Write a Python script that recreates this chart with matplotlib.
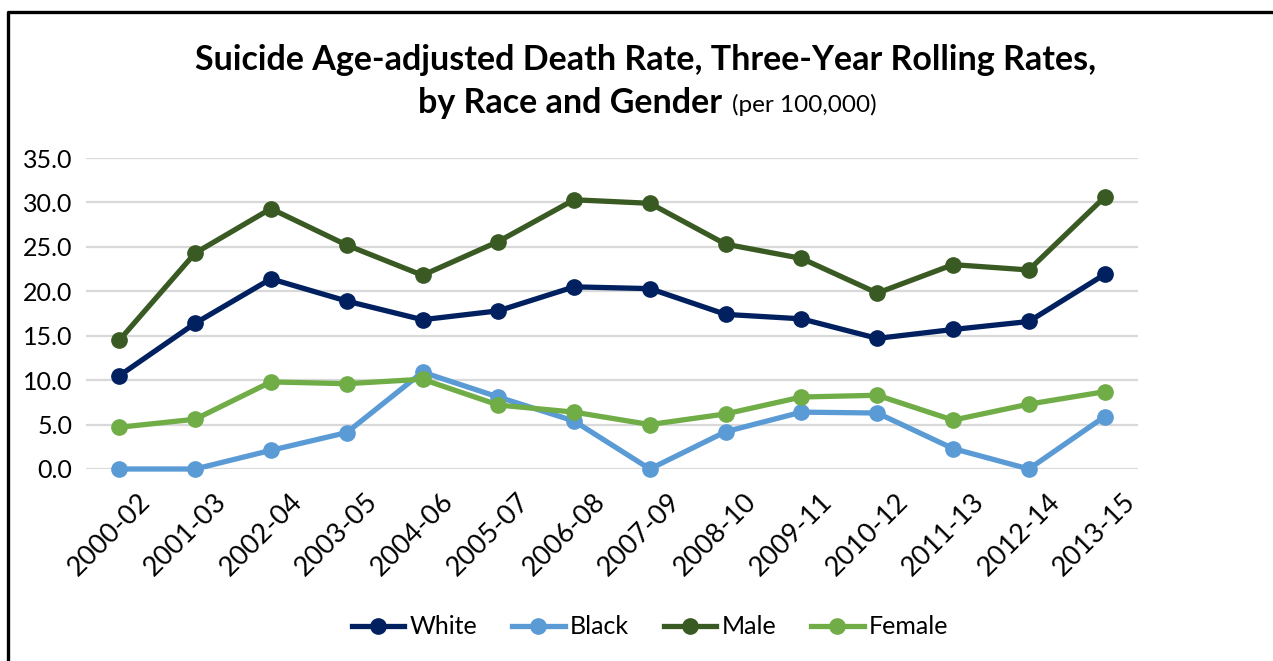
import matplotlib.pyplot as plt
import matplotlib.transforms as mtransforms
from matplotlib.lines import Line2D

plt.rcParams['font.family'] = ['Lato', 'DejaVu Sans']

periods = ['2000-02', '2001-03', '2002-04', '2003-05', '2004-06', '2005-07', '2006-08',
           '2007-09', '2008-10', '2009-11', '2010-12', '2011-13', '2012-14', '2013-15']
white = [10.5, 16.4, 21.4, 18.9, 16.8, 17.8, 20.5, 20.3, 17.4, 16.9, 14.7, 15.7, 16.6, 21.9]
black = [0.0, 0.0, 2.1, 4.1, 10.9, 8.1, 5.4, 0.0, 4.2, 6.4, 6.3, 2.3, 0.0, 5.9]
male = [14.5, 24.3, 29.3, 25.2, 21.8, 25.6, 30.3, 29.9, 25.3, 23.7, 19.8, 23.0, 22.4, 30.6]
female = [4.7, 5.6, 9.8, 9.6, 10.1, 7.2, 6.4, 5.0, 6.2, 8.1, 8.3, 5.5, 7.3, 8.7]

series = [('White', white, '#002060'),
          ('Black', black, '#5b9bd5'),
          ('Male', male, '#3a5a23'),
          ('Female', female, '#70ad47')]

fig = plt.figure(figsize=(12.73, 6.61), dpi=100)
ax = fig.add_axes([86 / 1273, 1 - 469 / 661, (1138 - 86) / 1273, (469 - 158) / 661])

x = list(range(len(periods)))
for name, vals, col in series:
    ax.plot(x, vals, color=col, lw=3.8, marker='o', markersize=11, label=name,
            clip_on=False, zorder=3)

ax.set_xlim(-0.44, len(periods) - 1 + 0.44)
ax.set_ylim(0, 35)
ax.set_yticks([0, 5, 10, 15, 20, 25, 30, 35])
ax.set_yticklabels(['%.1f' % v for v in [0, 5, 10, 15, 20, 25, 30, 35]])
ax.yaxis.grid(True, color='#d9d9d9', lw=1.6)
ax.set_axisbelow(True)
for s in ax.spines.values():
    s.set_visible(False)
ax.tick_params(axis='both', length=0, labelsize=18)
ax.tick_params(axis='x', labelsize=19.5)
ax.tick_params(axis='y', pad=10)

ax.set_xticks(x)
ax.set_xticklabels(periods, rotation=45, ha='right', va='center', rotation_mode='anchor')
offset = mtransforms.ScaledTranslation(27 / 100, -24 / 100, fig.dpi_scale_trans)
for lab in ax.get_xticklabels():
    lab.set_transform(lab.get_transform() + offset)

# title
fig.text(646 / 1273, 1 - 60 / 661, 'Suicide Age-adjusted Death Rate, Three-Year Rolling Rates,',
         ha='center', va='center', fontsize=24.5, fontweight='bold')
t2 = fig.text(722 / 1273, 1 - 103 / 661, 'by Race and Gender', ha='right', va='center',
              fontsize=24.5, fontweight='bold')
ax.annotate('(per 100,000)', xy=(1, 0), xycoords=t2, xytext=(7, 2),
            textcoords='offset points', fontsize=17.5, ha='left', va='bottom')

leg = fig.legend(loc='center', bbox_to_anchor=(650 / 1273, 1 - 627 / 661), ncol=4,
                 frameon=False, fontsize=18, handlelength=2.1, handletextpad=0.2,
                 columnspacing=1.4)

# border (top and left edges visible)
fig.add_artist(Line2D([8 / 1273, 8 / 1273, 1.0], [0.0, 1 - 12 / 661, 1 - 12 / 661],
                      transform=fig.transFigure, color='black', lw=2.4))

fig.savefig('out.png', dpi=100)
